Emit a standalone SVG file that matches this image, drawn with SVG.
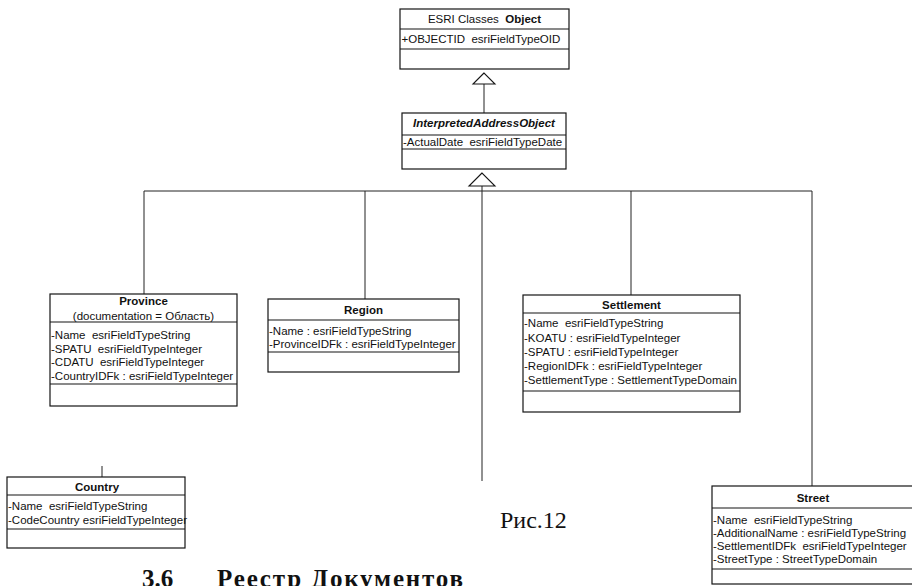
<svg xmlns="http://www.w3.org/2000/svg" width="912" height="586" viewBox="0 0 912 586">
<style>
.box{fill:#fff;stroke:#151515;stroke-width:1.2}
.dv{stroke:#151515;stroke-width:1.1;fill:none}
.ln{stroke:#222;stroke-width:1;fill:none}
.tri{fill:#fff;stroke:#151515;stroke-width:1.1}
.t{font-family:"Liberation Sans",Arial,sans-serif;font-size:11.5px;fill:#111}
.b{font-weight:bold}
.c{text-anchor:middle}
.s{font-family:"Liberation Serif","Times New Roman",serif;fill:#111}
</style>
<rect width="912" height="586" fill="#fff"/>
<g id="connectors">
  <path class="ln" d="M484,84 V113"/>
  <path class="ln" d="M144,191 H812"/>
  <path class="ln" d="M144,191 V294"/>
  <path class="ln" d="M365,191 V299"/>
  <path class="ln" d="M631,191 V295"/>
  <path class="ln" d="M812,191 V486"/>
  <path class="ln" d="M482,186 V481"/>
  <path class="ln" d="M102,466 V477"/>
  <polygon class="tri" points="484,73 473,84 495,84"/>
  <polygon class="tri" points="482,173 469,186 495,186"/>
</g>
<g id="esri-object">
  <rect class="box" x="400" y="9" width="169" height="60"/>
  <path class="dv" d="M400,29 H569 M400,49 H569"/>
  <text class="t c" x="484.5" y="23" xml:space="preserve">ESRI Classes<tspan class="b">  Object</tspan></text>
  <text class="t" x="401.5" y="43" xml:space="preserve">+OBJECTID  esriFieldTypeOID</text>
</g>
<g id="interpreted-address-object">
  <rect class="box" x="402" y="113" width="164" height="56"/>
  <path class="dv" d="M402,135 H566 M402,149 H566"/>
  <text class="t c b" x="484" y="127" font-style="italic">InterpretedAddressObject</text>
  <text class="t" x="403" y="146" xml:space="preserve">-ActualDate  esriFieldTypeDate</text>
</g>
<g id="province">
  <rect class="box" x="50" y="294" width="187" height="112"/>
  <path class="dv" d="M50,322 H237 M50,384 H237"/>
  <text class="t c b" x="143.5" y="305">Province</text>
  <text class="t c" x="143.5" y="320">(documentation = Область)</text>
  <text class="t" x="51" y="339" xml:space="preserve">-Name  esriFieldTypeString</text>
  <text class="t" x="51" y="353" xml:space="preserve">-SPATU  esriFieldTypeInteger</text>
  <text class="t" x="51" y="366" xml:space="preserve">-CDATU  esriFieldTypeInteger</text>
  <text class="t" x="51" y="380" xml:space="preserve">-CountryIDFk : esriFieldTypeInteger</text>
</g>
<g id="region">
  <rect class="box" x="268" y="299" width="191" height="73"/>
  <path class="dv" d="M268,320 H459 M268,352 H459"/>
  <text class="t c b" x="363.5" y="314">Region</text>
  <text class="t" x="269" y="335" xml:space="preserve">-Name : esriFieldTypeString</text>
  <text class="t" x="269" y="348" xml:space="preserve">-ProvinceIDFk : esriFieldTypeInteger</text>
</g>
<g id="settlement">
  <rect class="box" x="523" y="295" width="217" height="117"/>
  <path class="dv" d="M523,313 H740 M523,391 H740"/>
  <text class="t c b" x="631.5" y="309">Settlement</text>
  <text class="t" x="524" y="327" xml:space="preserve">-Name  esriFieldTypeString</text>
  <text class="t" x="524" y="341.5" xml:space="preserve">-KOATU : esriFieldTypeInteger</text>
  <text class="t" x="524" y="356" xml:space="preserve">-SPATU : esriFieldTypeInteger</text>
  <text class="t" x="524" y="370" xml:space="preserve">-RegionIDFk : esriFieldTypeInteger</text>
  <text class="t" x="524" y="384" xml:space="preserve">-SettlementType : SettlementTypeDomain</text>
</g>
<g id="country">
  <rect class="box" x="7" y="477" width="178" height="71"/>
  <path class="dv" d="M7,495 H185 M7,529 H185"/>
  <text class="t c b" x="97" y="491">Country</text>
  <text class="t" x="8" y="510" xml:space="preserve">-Name  esriFieldTypeString</text>
  <text class="t" x="8" y="524">-CodeCountry esriFieldTypeInteger</text>
</g>
<g id="street">
  <rect class="box" x="712" y="486" width="203" height="98"/>
  <path class="dv" d="M712,508 H915 M712,569 H915"/>
  <text class="t c b" x="813" y="502">Street</text>
  <text class="t" x="713" y="524" xml:space="preserve">-Name  esriFieldTypeString</text>
  <text class="t" x="713" y="537" xml:space="preserve">-AdditionalName : esriFieldTypeString</text>
  <text class="t" x="713" y="550" xml:space="preserve">-SettlementIDFk  esriFieldTypeInteger</text>
  <text class="t" x="713" y="563" xml:space="preserve">-StreetType : StreetTypeDomain</text>
</g>
<text class="s" x="500" y="528" font-size="24">Рис.12</text>
<text class="s" font-weight="bold" font-size="25" y="587"><tspan x="142">3.6</tspan><tspan x="217" textLength="246" lengthAdjust="spacing">Реестр Документов</tspan></text>
</svg>
